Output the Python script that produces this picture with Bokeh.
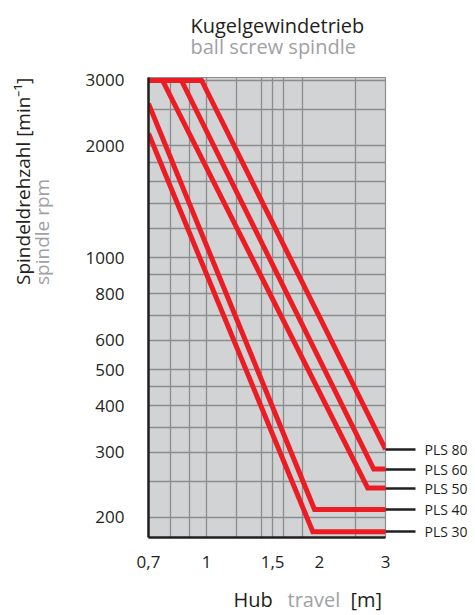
from math import pi
from bokeh.plotting import figure
from bokeh.layouts import column, row
from bokeh.models import Range1d, LogAxis, FixedTicker, CustomJSTickFormatter
from bokeh.core.properties import value
from bokeh.embed import file_html
from bokeh.resources import INLINE

# ---- data (travel [m] vs spindle speed [min^-1]) ----
series_names = ["PLS 80", "PLS 60", "PLS 50", "PLS 40", "PLS 30"]
pls80_x = [0.70, 0.97, 3.00]
pls80_y = [3000, 3000, 305]
pls60_x = [0.70, 0.857, 2.79, 3.00]
pls60_y = [3000, 3000, 270, 270]
pls50_x = [0.70, 0.763, 2.69, 3.00]
pls50_y = [3000, 3000, 240, 240]
pls40_x = [0.70, 1.94, 3.00]
pls40_y = [2600, 210, 210]
pls30_x = [0.70, 1.92, 3.00]
pls30_y = [2160, 183, 183]

x_ticks = [0.7, 1, 1.5, 2, 3]
y_ticks = [200, 300, 400, 500, 600, 800, 1000, 2000, 3000]
x_grid = [0.8, 0.9, 1.0, 1.2, 1.4, 1.5, 1.6, 1.8, 2.5]
y_grid = [200, 250, 300, 350, 400, 450, 500, 600, 700, 800, 900, 1000,
          1200, 1400, 1600, 1800, 2000, 2500, 3000]

BLACK = "#231f20"
GREY_TXT = "#9fa1a4"
RED = "#ed1c24"
GRID = "#8a8c8e"
FONT = "Open Sans"

W = 472
TOP_H, MAIN_H, BOT_H, LEFT_W = 60, 521, 32, 60


def blank(width, height, xr, yr):
    f = figure(width=width, height=height, x_range=Range1d(*xr), y_range=Range1d(*yr),
               x_axis_location=None, y_axis_location=None, output_backend="svg",
               toolbar_location=None, min_border=0, title=None)
    f.grid.visible = False
    f.outline_line_color = None
    f.background_fill_color = "white"
    f.border_fill_color = "white"
    return f


def label(f, x, y, txt, color, angle=0, size="20px"):
    f.text(x=[x], y=[y], text=[txt], text_color=color, text_font=value(FONT),
           text_font_size=size, text_baseline="alphabetic", text_align="left",
           angle=angle)


# ---- title strip ----
top = blank(W, TOP_H, (0, W), (TOP_H, 0))
label(top, 190, 25, "Kugelgewindetrieb", BLACK)
label(top, 190, 46, "ball screw spindle", GREY_TXT)

# ---- y-axis title strip ----
left = blank(LEFT_W, MAIN_H, (0, LEFT_W), (TOP_H + MAIN_H, TOP_H))
label(left, 22, 295, "Spindeldrehzahl [min\u207b\u00b9]", BLACK, angle=pi / 2, size="19px")
label(left, 41, 295, "spindle rpm", GREY_TXT, angle=pi / 2, size="19px")

# ---- x-axis title strip ----
bot = blank(W, BOT_H, (0, W), (TOP_H + MAIN_H + BOT_H, TOP_H + MAIN_H))
label(bot, 233, 599, "Hub", BLACK)
label(bot, 287, 599, "travel", GREY_TXT)
label(bot, 350, 599, "[m]", BLACK)

# ---- main chart ----
y0, y1 = 176.6, 3056
p = figure(width=W - LEFT_W, height=MAIN_H, x_axis_type="log", y_axis_type="log",
           x_range=Range1d(0.7, 3.0), y_range=Range1d(y0, y1), title=None,
           output_backend="svg", toolbar_location=None,
           min_border_left=88, min_border_right=87,
           min_border_top=17, min_border_bottom=44)
p.background_fill_color = "#d1d3d4"
p.border_fill_color = "white"
p.outline_line_color = GRID
p.outline_line_width = 1.2

p.xgrid[0].ticker = FixedTicker(ticks=x_grid)
p.ygrid[0].ticker = FixedTicker(ticks=y_grid)
for g in (p.xgrid[0], p.ygrid[0]):
    g.grid_line_color = GRID
    g.grid_line_width = 1.3
    g.grid_line_alpha = 1.0

xa = p.xaxis[0]
xa.ticker = FixedTicker(ticks=x_ticks)
xa.formatter = CustomJSTickFormatter(code="return tick.toString().replace('.', ',');")
ya = p.yaxis[0]
ya.ticker = FixedTicker(ticks=y_ticks)
ya.formatter = CustomJSTickFormatter(code="return tick.toString();")
for ax in (xa, ya):
    ax.axis_line_color = BLACK
    ax.axis_line_width = 2.5
    ax.major_tick_line_color = None
    ax.minor_tick_line_color = None
    ax.major_label_text_font = FONT
    ax.major_label_text_font_size = "17px"
    ax.major_label_text_color = BLACK
xa.major_label_standoff = 12
ya.major_label_standoff = 18

# right axis carrying the series names with leader lines
end_vals = [pls80_y[-1], pls60_y[-1], pls50_y[-1], pls40_y[-1], pls30_y[-1]]
ra = LogAxis(ticker=FixedTicker(ticks=end_vals),
             formatter=CustomJSTickFormatter(
                 args=dict(vals=end_vals, names=series_names),
                 code="const i = vals.indexOf(tick); return i >= 0 ? names[i] : '';"))
ra.axis_line_color = None
ra.major_tick_in = 0
ra.major_tick_out = 30
ra.major_tick_line_color = BLACK
ra.major_tick_line_width = 2.5
ra.minor_tick_line_color = None
ra.major_label_standoff = 9
ra.major_label_text_font = FONT
ra.major_label_text_font_size = "14px"
ra.major_label_text_color = BLACK
p.add_layout(ra, "right")

for xs, ys in [(pls80_x, pls80_y), (pls60_x, pls60_y), (pls50_x, pls50_y),
               (pls40_x, pls40_y), (pls30_x, pls30_y)]:
    p.line(xs, ys, line_color=RED, line_width=5, line_join="miter", line_cap="butt")

layout = column(top, row(left, p), bot)
open("out.html", "w").write(file_html(layout, INLINE))
